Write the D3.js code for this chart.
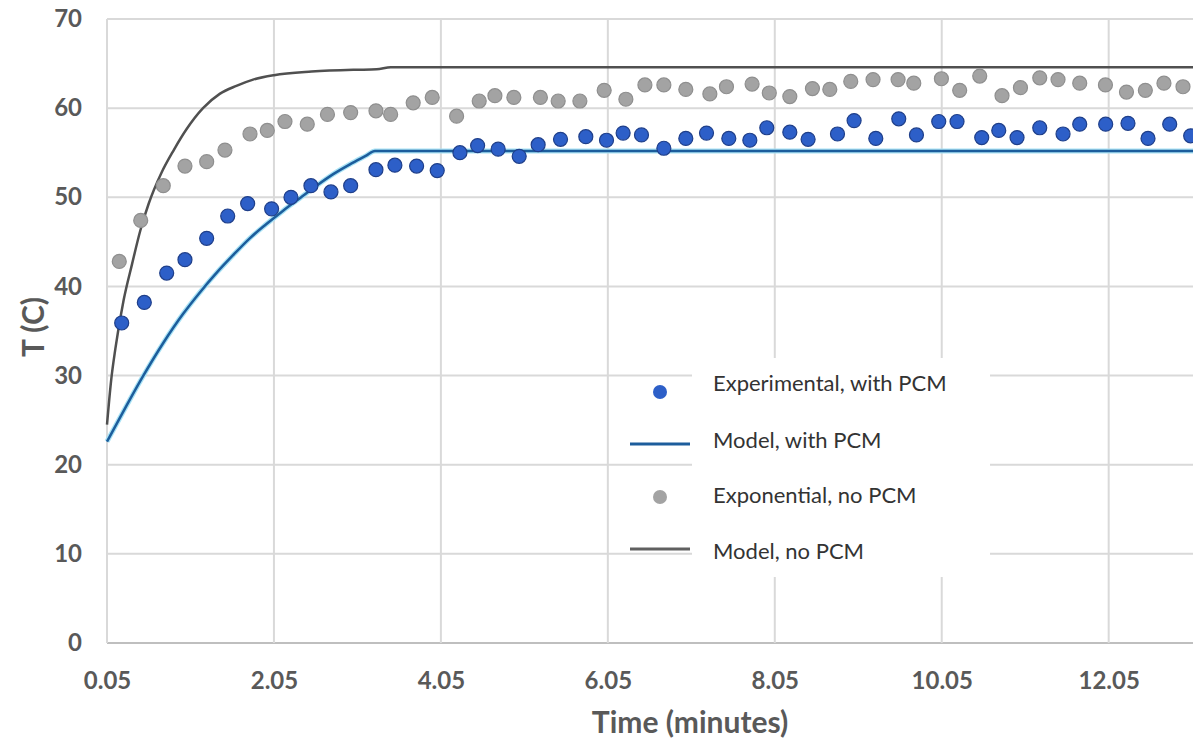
<!DOCTYPE html>
<html>
<head>
<meta charset="utf-8">
<script src="https://cdn.jsdelivr.net/npm/d3@7"></script>
<style>
  html, body { margin: 0; padding: 0; background: #fff; }
  svg { display: block; }
  text { font-family: Lato, "Open Sans", sans-serif; }
</style>
</head>
<body>
<svg id="chart" width="1193" height="740"></svg>
<script>
// ---------- data ----------
const xTicks = [0.05, 2.05, 4.05, 6.05, 8.05, 10.05, 12.05];
const yTicks = [0, 10, 20, 30, 40, 50, 60, 70];

// Experimental, with PCM  (time in minutes, T in C)
const expTime = [0.226, 0.497, 0.765, 0.984, 1.244, 1.496, 1.735, 2.022, 2.254, 2.493,
  2.733, 2.969, 3.272, 3.499, 3.759, 4.006, 4.278, 4.490, 4.736, 4.988,
  5.215, 5.483, 5.786, 6.034, 6.233, 6.453, 6.721, 6.984, 7.232, 7.499,
  7.751, 7.954, 8.230, 8.449, 8.801, 9.000, 9.260, 9.535, 9.747, 10.014,
  10.233, 10.529, 10.733, 10.952, 11.224, 11.503, 11.703, 12.014, 12.281, 12.521,
  12.781, 13.032];
const expTemp = [35.9, 38.2, 41.5, 43.0, 45.4, 47.9, 49.3, 48.7, 50.0, 51.3,
  50.6, 51.3, 53.1, 53.6, 53.5, 53.0, 55.0, 55.8, 55.4, 54.6,
  55.9, 56.5, 56.8, 56.4, 57.2, 57.0, 55.5, 56.6, 57.2, 56.6,
  56.4, 57.8, 57.3, 56.5, 57.1, 58.6, 56.6, 58.8, 57.0, 58.5,
  58.5, 56.7, 57.5, 56.7, 57.8, 57.1, 58.2, 58.2, 58.3, 56.6,
  58.2, 56.9];

// Exponential, no PCM
const noPcmTime = [0.197, 0.454, 0.724, 0.984, 1.244, 1.463, 1.763, 1.970, 2.182, 2.449,
  2.691, 2.969, 3.272, 3.448, 3.718, 3.946, 4.238, 4.509, 4.697, 4.924,
  5.242, 5.455, 5.715, 6.006, 6.266, 6.494, 6.721, 6.984, 7.272, 7.471,
  7.778, 7.984, 8.230, 8.501, 8.709, 8.960, 9.227, 9.527, 9.715, 10.046,
  10.265, 10.505, 10.772, 10.993, 11.224, 11.443, 11.703, 12.011, 12.263, 12.489,
  12.712, 12.940];
const noPcmTemp = [42.8, 47.4, 51.3, 53.5, 54.0, 55.3, 57.1, 57.5, 58.5, 58.2,
  59.3, 59.5, 59.7, 59.3, 60.6, 61.2, 59.1, 60.8, 61.4, 61.2,
  61.2, 60.8, 60.8, 62.0, 61.0, 62.6, 62.6, 62.1, 61.6, 62.4,
  62.7, 61.7, 61.3, 62.2, 62.1, 63.0, 63.2, 63.2, 62.8, 63.3,
  62.0, 63.6, 61.4, 62.3, 63.4, 63.2, 62.8, 62.6, 61.8, 62.0,
  62.8, 62.4];

// Model, with PCM
const modelPcmTime = [0.05, 0.30, 0.48, 0.72, 0.96, 1.16, 1.37, 1.56, 1.76, 1.96,
  2.16, 2.36, 2.56, 2.76, 2.96, 3.16, 3.26, 13.06];
const modelPcmTemp = [22.6, 26.9, 29.9, 33.6, 36.9, 39.3, 41.6, 43.5, 45.4, 47.0,
  48.5, 49.9, 51.3, 52.6, 53.7, 54.7, 55.2, 55.2];

// Model, no PCM
const modelNoTime = [0.05, 0.10, 0.15, 0.25, 0.35, 0.45, 0.55, 0.70, 0.85, 1.00,
  1.20, 1.40, 1.60, 1.80, 2.05, 2.50, 3.00, 3.28, 3.45, 13.06];
const modelNoTemp = [24.5, 29.5, 33.0, 38.5, 42.5, 46.3, 49.3, 52.7, 55.3, 57.6,
  60.0, 61.6, 62.5, 63.2, 63.7, 64.1, 64.3, 64.35, 64.6, 64.6];

const legendLabels = ["Experimental, with PCM", "Model, with PCM", "Exponential, no PCM", "Model, no PCM"];

// ---------- drawing ----------
const svg = d3.select("#chart");
const x = d3.scaleLinear().domain([0.05, 13.06]).range([107, 1193]);
const y = d3.scaleLinear().domain([0, 70]).range([643, 19]);

const gridColor = "#d9d9d9";
const tickColor = "#595959";

// horizontal gridlines
svg.append("g").selectAll("line").data(yTicks).join("line")
  .attr("x1", x(0.05)).attr("x2", 1193)
  .attr("y1", d => y(d)).attr("y2", d => y(d))
  .attr("stroke", d => d === 0 ? "#bfbfbf" : gridColor)
  .attr("stroke-width", 2);

// vertical gridlines
svg.append("g").selectAll("line").data(xTicks).join("line")
  .attr("x1", d => x(d)).attr("x2", d => x(d))
  .attr("y1", y(70)).attr("y2", y(0))
  .attr("stroke", gridColor)
  .attr("stroke-width", 2);

// axes labels via d3 axes (no lines)
const xAxis = d3.axisBottom(x).tickValues(xTicks).tickFormat(d => d.toFixed(2)).tickSize(0).tickPadding(29);
const gx = svg.append("g").attr("transform", `translate(0,${y(0)})`).call(xAxis);
gx.select(".domain").remove();
gx.selectAll("text").attr("fill", tickColor).attr("font-size", 24).attr("font-weight", 700)
  .attr("font-family", "Lato, sans-serif");

const yAxis = d3.axisLeft(y).tickValues(yTicks).tickFormat(d3.format("d")).tickSize(0).tickPadding(25);
const gy = svg.append("g").attr("transform", `translate(${x(0.05)},0)`).call(yAxis);
gy.select(".domain").remove();
gy.selectAll("text").attr("fill", tickColor).attr("font-size", 24).attr("font-weight", 700)
  .attr("font-family", "Lato, sans-serif");

// axis titles
svg.append("text").attr("x", 690).attr("y", 733).attr("text-anchor", "middle")
  .attr("fill", tickColor).attr("font-size", 30).attr("font-weight", 700)
  .text("Time (minutes)");
svg.append("text").attr("transform", "translate(44,327) rotate(-90)").attr("text-anchor", "middle")
  .attr("fill", tickColor).attr("font-size", 30).attr("font-weight", 700)
  .text("T (C)");

// legend background (covers gridlines)
svg.append("rect").attr("x", 692).attr("y", 358).attr("width", 298).attr("height", 219).attr("fill", "#fff");

// lines
const line = d3.line().x(d => x(d[0])).y(d => y(d[1])).curve(d3.curveMonotoneX);
const modelPcm = modelPcmTime.map((t, i) => [t, modelPcmTemp[i]]);
const modelNo = modelNoTime.map((t, i) => [t, modelNoTemp[i]]);

svg.append("path").datum(modelPcm).attr("d", line)
  .attr("fill", "none").attr("stroke", "#a8e2f5").attr("stroke-width", 5).attr("stroke-linejoin", "round");
svg.append("path").datum(modelPcm).attr("d", line)
  .attr("fill", "none").attr("stroke", "#1c5d9c").attr("stroke-width", 2.5).attr("stroke-linejoin", "round");
svg.append("path").datum(modelNo).attr("d", line)
  .attr("fill", "none").attr("stroke", "#505050").attr("stroke-width", 2.5).attr("stroke-linejoin", "round");

// points
const noPcm = noPcmTime.map((t, i) => [t, noPcmTemp[i]]);
const exp = expTime.map((t, i) => [t, expTemp[i]]);
svg.append("g").selectAll("circle").data(noPcm).join("circle")
  .attr("cx", d => x(d[0])).attr("cy", d => y(d[1])).attr("r", 7)
  .attr("fill", "#a3a3a3").attr("stroke", "#8f8f8f").attr("stroke-width", 1.2);
svg.append("g").selectAll("circle").data(exp).join("circle")
  .attr("cx", d => x(d[0])).attr("cy", d => y(d[1])).attr("r", 7)
  .attr("fill", "#2d5fc8").attr("stroke", "#1f3f8a").attr("stroke-width", 1.2);

// legend
const lg = svg.append("g");
const legY = [392, 444, 497, 549];
lg.append("circle").attr("cx", 660).attr("cy", legY[0]).attr("r", 7).attr("fill", "#2d5fc8");
lg.append("line").attr("x1", 630).attr("x2", 690).attr("y1", legY[1]).attr("y2", legY[1])
  .attr("stroke", "#1c5d9c").attr("stroke-width", 3);
lg.append("circle").attr("cx", 660).attr("cy", legY[2]).attr("r", 7).attr("fill", "#a3a3a3");
lg.append("line").attr("x1", 630).attr("x2", 690).attr("y1", legY[3]).attr("y2", legY[3])
  .attr("stroke", "#606060").attr("stroke-width", 3);
lg.selectAll("text").data(legendLabels).join("text")
  .attr("x", 713).attr("y", (d, i) => [383, 440, 495, 551][i]).attr("dy", "0.35em")
  .attr("fill", "#333").attr("font-size", 22)
  .text(d => d);
</script>
</body>
</html>
